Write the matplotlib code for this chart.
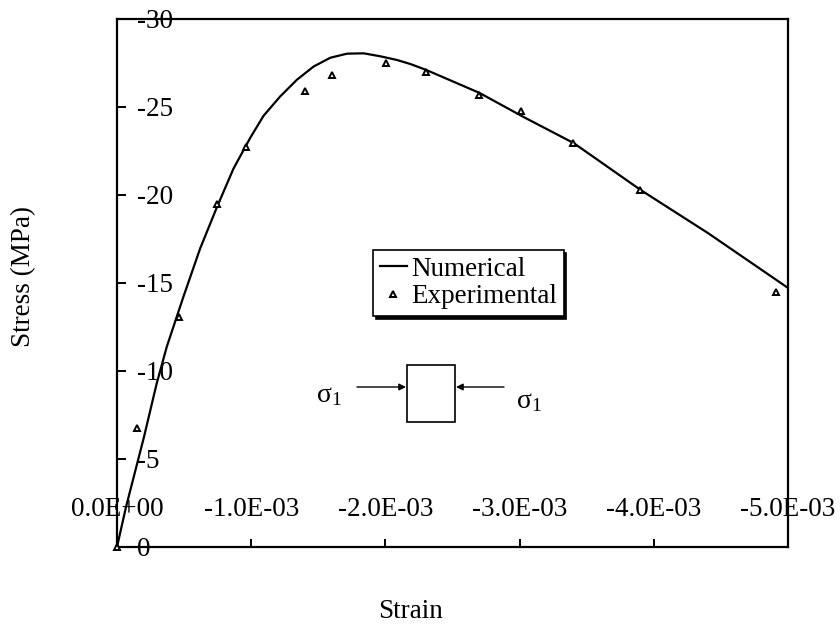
import matplotlib
matplotlib.use("Agg")
import matplotlib.pyplot as plt
from matplotlib.patches import Rectangle, FancyArrowPatch
from matplotlib.ticker import FixedLocator

plt.rcParams['font.family'] = ['Liberation Serif', 'DejaVu Serif']
plt.rcParams['mathtext.fontset'] = 'custom'
plt.rcParams['mathtext.rm'] = 'Liberation Serif'
plt.rcParams['mathtext.default'] = 'regular'

# Numerical stress-strain curve (strain, stress in MPa)
num_strain = [0.0, -0.067e-3, -0.201e-3, -0.296e-3, -0.371e-3, -0.495e-3, -0.619e-3,
              -0.744e-3, -0.868e-3, -0.993e-3, -1.092e-3, -1.216e-3, -1.341e-3,
              -1.465e-3, -1.590e-3, -1.714e-3, -1.838e-3, -1.963e-3, -2.087e-3,
              -2.187e-3, -2.306e-3, -2.701e-3, -3.030e-3, -3.403e-3, -3.903e-3,
              -4.403e-3, -5.000e-3]
num_stress = [0.0, -2.27, -6.25, -9.30, -11.38, -14.22, -16.95,
              -19.3, -21.5, -23.25, -24.5, -25.6, -26.55,
              -27.3, -27.8, -28.03, -28.05, -27.88, -27.67,
              -27.44, -27.10, -25.80, -24.43, -22.95, -20.28,
              -17.84, -14.72]

# Experimental measurements
exp_strain = [0.0, -0.149e-3, -0.463e-3, -0.746e-3, -0.963e-3, -1.403e-3, -1.604e-3,
              -2.007e-3, -2.306e-3, -2.700e-3, -3.007e-3, -3.400e-3, -3.900e-3, -4.910e-3]
exp_stress = [0.0, -6.76, -13.07, -19.5, -22.7, -25.9, -26.8,
              -27.5, -27.0, -25.7, -24.8, -22.95, -20.3, -14.5]

x_ticks = [0.0, -1e-3, -2e-3, -3e-3, -4e-3, -5e-3]
x_tick_labels = ["0.0E+00", "-1.0E-03", "-2.0E-03", "-3.0E-03", "-4.0E-03", "-5.0E-03"]
y_ticks = [0, -5, -10, -15, -20, -25, -30]
y_tick_labels = ["0", "-5", "-10", "-15", "-20", "-25", "-30"]

W, H = 840, 627
fig = plt.figure(figsize=(W / 100, H / 100), dpi=100)


def fx(px):
    return px / W


def fy(py):
    return 1 - py / H


L, R, T, B = 117, 788, 19, 547
ax = fig.add_axes([fx(L), fy(B), fx(R) - fx(L), fy(T) - fy(B)])

ax.plot(num_strain, num_stress, color='black', lw=1.6, label='Numerical', zorder=3)
ax.plot(exp_strain, exp_stress, linestyle='none', marker='^', markersize=5,
        markerfacecolor='white', markeredgecolor='black', markeredgewidth=1.4,
        label='Experimental', zorder=4, clip_on=False)

ax.set_xlim(0, -5e-3)
ax.set_ylim(0, -30)

for s in ax.spines.values():
    s.set_linewidth(1.6)

ax.xaxis.set_major_locator(FixedLocator(x_ticks))
ax.set_xticklabels(x_tick_labels)
ax.yaxis.set_major_locator(FixedLocator(y_ticks))
ax.set_yticklabels(y_tick_labels)

ax.tick_params(axis='x', direction='in', length=5.5, width=1.4, labelsize=19.5, pad=-27)
ax.tick_params(axis='y', direction='in', length=6.5, width=1.4, labelsize=19.5, pad=-14.5)
for lab in ax.get_xticklabels():
    lab.set_va('center')
for lab in ax.get_yticklabels():
    lab.set_ha('left')

fig.text(fx(24), fy(276), 'Stress (MPa)', rotation=90, ha='center', va='center', fontsize=19.5)
fig.text(fx(411), fy(612), 'Strain', ha='center', va='center', fontsize=19.5)

leg = ax.legend(loc='upper left', bbox_to_anchor=(fx(373), fy(250)),
                bbox_transform=fig.transFigure, fontsize=19.5, frameon=True,
                fancybox=False, shadow={'color': 'black', 'alpha': 1.0},
                edgecolor='black', framealpha=1.0, borderpad=0.25,
                handlelength=1.0, handletextpad=0.15, labelspacing=0.1,
                borderaxespad=0.0, markerscale=0.9)
leg.get_frame().set_linewidth(1.2)

# Loading sketch: specimen under uniaxial compression
ax.add_patch(Rectangle((fx(407), fy(422)), fx(455) - fx(407), fy(365) - fy(422),
                       transform=fig.transFigure, fill=False, edgecolor='black',
                       lw=1.2, clip_on=False))
for x0, x1 in [(357, 406), (504, 456)]:
    ax.add_patch(FancyArrowPatch((fx(x0), fy(387)), (fx(x1), fy(387)),
                                 transform=fig.transFigure, arrowstyle='-|>',
                                 mutation_scale=10, color='black', lw=1.0,
                                 shrinkA=0, shrinkB=0, clip_on=False))
fig.text(fx(329), fy(396), r'$σ_1$', ha='center', va='center', fontsize=20)
fig.text(fx(529), fy(402), r'$σ_1$', ha='center', va='center', fontsize=20)

fig.savefig('out.png', dpi=100)
